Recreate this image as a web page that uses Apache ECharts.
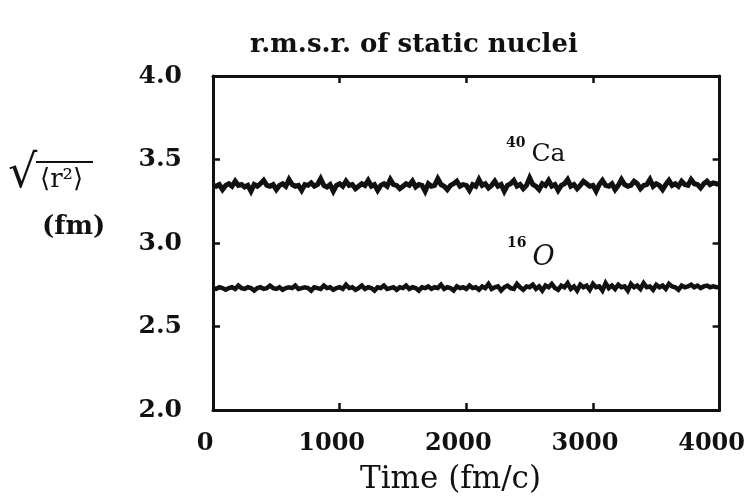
<!DOCTYPE html>
<html>
<head>
<meta charset="utf-8">
<script src="https://cdn.jsdelivr.net/npm/echarts@6/dist/echarts.min.js"></script>
<style>
  html, body { margin: 0; padding: 0; background: #fff; }
  #chart { width: 748px; height: 500px; }
</style>
</head>
<body>
<div id="chart"></div>
<script>
// Sampling step of the time axis (fm/c)
const timeStep = 25;

// r.m.s. radius of 40Ca (fm), one value per time sample
const caRadius = [
  3.345, 3.34, 3.35, 3.32, 3.345, 3.355, 3.34, 3.37, 3.345, 3.35,
  3.335, 3.345, 3.31, 3.35, 3.34, 3.355, 3.375, 3.345, 3.34, 3.35,
  3.32, 3.345, 3.355, 3.34, 3.38, 3.35, 3.34, 3.345, 3.315, 3.35,
  3.345, 3.36, 3.34, 3.35, 3.385, 3.345, 3.335, 3.35, 3.31, 3.345,
  3.355, 3.34, 3.37, 3.345, 3.35, 3.325, 3.34, 3.355, 3.345, 3.375,
  3.34, 3.35, 3.315, 3.345, 3.355, 3.34, 3.38, 3.35, 3.345, 3.325,
  3.34, 3.355, 3.345, 3.37, 3.335, 3.35, 3.345, 3.31, 3.355, 3.34,
  3.345, 3.385, 3.35, 3.34, 3.32, 3.345, 3.355, 3.37, 3.34, 3.35,
  3.345, 3.315, 3.35, 3.34, 3.38, 3.345, 3.355, 3.33, 3.345, 3.37,
  3.34, 3.35, 3.31, 3.345, 3.355, 3.375, 3.34, 3.35, 3.325, 3.345,
  3.39, 3.35, 3.34, 3.32, 3.355, 3.345, 3.375, 3.34, 3.35, 3.315,
  3.345, 3.355, 3.38, 3.34, 3.35, 3.325, 3.345, 3.37, 3.355, 3.34,
  3.345, 3.31, 3.35, 3.375, 3.345, 3.34, 3.355, 3.32, 3.345, 3.38,
  3.35, 3.34, 3.345, 3.37, 3.355, 3.325, 3.345, 3.35, 3.38, 3.34,
  3.355, 3.345, 3.32, 3.35, 3.375, 3.345, 3.355, 3.34, 3.37, 3.35,
  3.345, 3.38, 3.355, 3.35, 3.33, 3.355, 3.37, 3.35, 3.36, 3.355,
  3.35
];

// r.m.s. radius of 16O (fm), one value per time sample
const oRadius = [
  2.73, 2.725, 2.735, 2.73, 2.72, 2.73, 2.735, 2.725, 2.745, 2.73,
  2.725, 2.735, 2.73, 2.715, 2.73, 2.735, 2.725, 2.73, 2.745, 2.73,
  2.725, 2.735, 2.72, 2.73, 2.735, 2.73, 2.745, 2.725, 2.73, 2.735,
  2.73, 2.715, 2.735, 2.73, 2.725, 2.745, 2.73, 2.735, 2.72, 2.73,
  2.735, 2.725, 2.75, 2.73, 2.735, 2.72, 2.73, 2.745, 2.725, 2.735,
  2.73, 2.715, 2.735, 2.73, 2.745, 2.725, 2.73, 2.735, 2.72, 2.735,
  2.73, 2.745, 2.725, 2.735, 2.73, 2.715, 2.735, 2.73, 2.74, 2.725,
  2.735, 2.73, 2.75, 2.725, 2.735, 2.73, 2.715, 2.74, 2.73, 2.735,
  2.725, 2.745, 2.73, 2.735, 2.72, 2.74, 2.73, 2.755, 2.725, 2.735,
  2.74, 2.715, 2.735, 2.745, 2.73, 2.725, 2.755, 2.735, 2.72, 2.74,
  2.735, 2.75, 2.725, 2.74, 2.715, 2.745, 2.735, 2.755, 2.73, 2.72,
  2.745, 2.735, 2.76, 2.725, 2.74, 2.715, 2.75, 2.735, 2.745, 2.72,
  2.755, 2.735, 2.74, 2.715, 2.76, 2.73, 2.745, 2.725, 2.75, 2.735,
  2.74, 2.715, 2.755, 2.735, 2.745, 2.725, 2.76, 2.735, 2.74, 2.72,
  2.75, 2.735, 2.745, 2.725, 2.755, 2.74, 2.735, 2.72, 2.745, 2.735,
  2.74, 2.75, 2.735, 2.745, 2.73, 2.74, 2.745, 2.735, 2.74, 2.735,
  2.735
];

// Axis ranges and tick spacing
const xTicks = { min: 0, max: 4000, interval: 1000 };
const yTicks = { min: 2.0, max: 4.0, interval: 0.5 };

const titleText = 'r.m.s.r. of static nuclei';
const xName = 'Time (fm/c)';

const INK = '#111';
const SERIF = '"DejaVu Serif", "Liberation Serif", serif';

const toPairs = vals => vals.map((v, i) => [i * timeStep, v]);

const frameLine = { show: true, onZero: false, lineStyle: { color: INK, width: 3 } };
const innerTick = { show: true, inside: true, length: 7, lineStyle: { color: INK, width: 2.5 } };

const chart = echarts.init(document.getElementById('chart'), null, { renderer: 'canvas' });

chart.setOption({
  animation: false,
  backgroundColor: '#fff',
  grid: { left: 213, top: 76, width: 509, height: 334, containLabel: false },
  xAxis: [
    {
      type: 'value', position: 'bottom', min: xTicks.min, max: xTicks.max, interval: xTicks.interval,
      axisLine: frameLine, axisTick: innerTick, splitLine: { show: false },
      axisLabel: {
        color: INK, fontFamily: SERIF, fontWeight: 'bold', fontSize: 24, margin: 22,
        padding: [0, 16, 0, 0],
        formatter: v => String(v)
      }
    },
    {
      type: 'value', position: 'top', min: xTicks.min, max: xTicks.max, interval: xTicks.interval,
      axisLine: frameLine, axisTick: innerTick, splitLine: { show: false },
      axisLabel: { show: false }
    }
  ],
  yAxis: [
    {
      type: 'value', position: 'left', min: yTicks.min, max: yTicks.max, interval: yTicks.interval,
      axisLine: frameLine, axisTick: innerTick, splitLine: { show: false },
      axisLabel: {
        color: INK, fontFamily: SERIF, fontWeight: 'bold', fontSize: 25, margin: 31,
        formatter: v => v.toFixed(1)
      }
    },
    {
      type: 'value', position: 'right', min: yTicks.min, max: yTicks.max, interval: yTicks.interval,
      axisLine: frameLine, axisTick: innerTick, splitLine: { show: false },
      axisLabel: { show: false }
    }
  ],
  series: [
    {
      name: '40Ca', type: 'line', xAxisIndex: 0, yAxisIndex: 0,
      data: toPairs(caRadius), showSymbol: false, smooth: false,
      lineStyle: { color: INK, width: 5, join: 'miter' }
    },
    {
      name: '16O', type: 'line', xAxisIndex: 0, yAxisIndex: 0,
      data: toPairs(oRadius), showSymbol: false, smooth: false,
      lineStyle: { color: INK, width: 4.5, join: 'miter' }
    }
  ],
  graphic: [
    {
      type: 'text', left: 250, top: 32,
      style: { text: titleText, font: 'bold 26px ' + SERIF, fill: INK }
    },
    {
      type: 'text', left: 360, top: 464,
      style: { text: xName, font: '31px ' + SERIF, fill: INK }
    },
    // nucleus labels
    {
      type: 'text', left: 506, top: 136,
      style: {
        text: '{s|40}{m|Ca}', fill: INK,
        rich: {
          s: { font: 'bold 14px ' + SERIF, verticalAlign: 'top', padding: [0, 6, 10, 0] },
          m: { font: '25px ' + SERIF, padding: [6, 0, 0, 0] }
        }
      }
    },
    {
      type: 'text', left: 507, top: 236,
      style: {
        text: '{s|16}{m|O}', fill: INK,
        rich: {
          s: { font: 'bold 14px ' + SERIF, verticalAlign: 'top', padding: [0, 6, 10, 0] },
          m: { font: 'italic 27px ' + SERIF, padding: [8, 0, 0, 0] }
        }
      }
    },
    // y-axis quantity: sqrt of <r^2>, in fm
    {
      type: 'text', left: 8, top: 152,
      style: { text: '\u221A', font: '46px "DejaVu Sans", ' + SERIF, fill: INK }
    },
    {
      type: 'line', shape: { x1: 36, y1: 162, x2: 93, y2: 162 },
      style: { stroke: INK, lineWidth: 2 }
    },
    {
      type: 'text', left: 40, top: 167,
      style: { text: '\u27E8r\u00B2\u27E9', font: '26px "DejaVu Serif", "DejaVu Sans", serif', fill: INK }
    },
    {
      type: 'text', left: 42, top: 214,
      style: { text: '(fm)', font: 'bold 26px ' + SERIF, fill: INK }
    }
  ]
});
</script>
</body>
</html>
